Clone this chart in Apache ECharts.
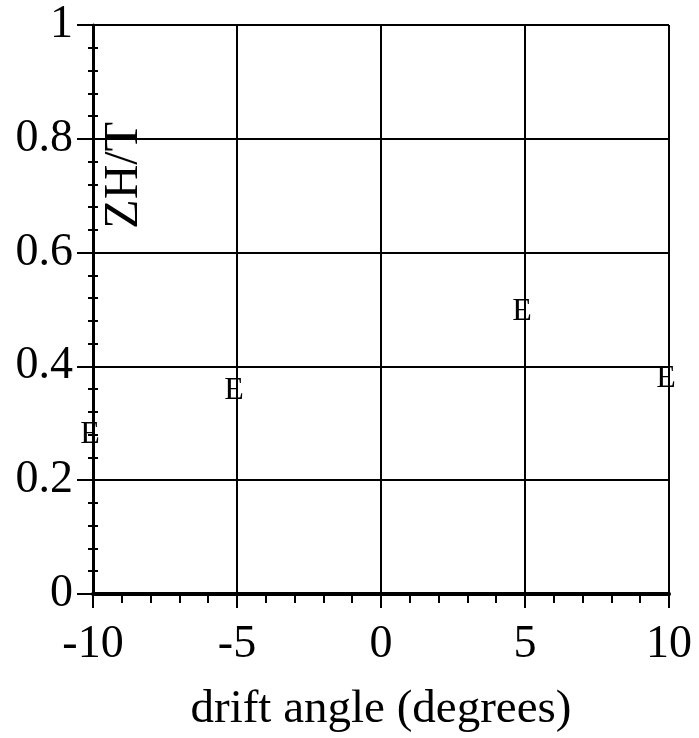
<!DOCTYPE html>
<html>
<head>
<meta charset="utf-8">
<script src="https://cdn.jsdelivr.net/npm/echarts@6/dist/echarts.min.js"></script>
<style>
html,body{margin:0;padding:0;background:#fff;}
#chart{width:699px;height:738px;}
</style>
</head>
<body>
<div id="chart"></div>
<script>
// Data
const driftAngle = [-10, -5, 5, 10];
const ratioZHT = [0.28, 0.357, 0.496, 0.379];
const pointLabels = ['E', 'E', 'E', 'E'];
const xTitle = 'drift angle (degrees)';
const yTitle = 'ZH/T';

const FONT = '"Liberation Serif", "DejaVu Serif", serif';
const chart = echarts.init(document.getElementById('chart'), null, {renderer: 'canvas'});

const pts = driftAngle.map((x, i) => [x, ratioZHT[i], pointLabels[i]]);

chart.setOption({
  animation: false,
  backgroundColor: '#ffffff',
  grid: {left: 93, right: 30, top: 25, bottom: 138, containLabel: false},
  xAxis: {
    type: 'value', min: -10, max: 10, interval: 5,
    name: xTitle, nameLocation: 'middle', nameGap: 92,
    nameTextStyle: {fontFamily: FONT, fontSize: 47, color: '#000'},
    axisLine: {show: true, onZero: false, lineStyle: {color: '#000', width: 4}},
    axisTick: {show: true, length: 14, lineStyle: {color: '#000', width: 2}},
    minorTick: {show: true, splitNumber: 5, length: 9, lineStyle: {color: '#000', width: 2}},
    splitLine: {show: true, lineStyle: {color: '#000', width: 2}},
    axisLabel: {fontFamily: FONT, fontSize: 46, color: '#000', margin: 28}
  },
  yAxis: [{
    type: 'value', min: 0, max: 1, interval: 0.2,
    axisLine: {show: true, onZero: false, lineStyle: {color: '#000', width: 3}},
    axisTick: {show: true, length: 16, lineStyle: {color: '#000', width: 2}},
    minorTick: {show: true, splitNumber: 5, length: 5, lineStyle: {color: '#000', width: 2}},
    splitLine: {show: true, lineStyle: {color: '#000', width: 2}},
    axisLabel: {fontFamily: FONT, fontSize: 46, color: '#000', margin: 20}
  }, {
    type: 'value', min: 0, max: 1, interval: 0.2, position: 'left',
    axisLine: {show: false, onZero: false},
    axisTick: {show: false, inside: true},
    minorTick: {show: true, splitNumber: 5, length: 5, lineStyle: {color: '#000', width: 2}},
    splitLine: {show: false},
    axisLabel: {show: false}
  }],
  graphic: [{
    type: 'text',
    left: 100, top: 122,
    rotation: Math.PI / 2,
    style: {text: yTitle, font: '48px ' + FONT, fill: '#000'}
  }],
  series: [{
    type: 'scatter',
    data: pts,
    symbol: 'circle',
    symbolSize: 0,
    itemStyle: {color: '#000', opacity: 1},
    label: {
      show: true, position: 'top', distance: 0, offset: [-3, 16],
      formatter: p => p.data[2],
      fontFamily: FONT, fontSize: 32, lineHeight: 32, color: '#000',
      fontWeight: 'normal', textBorderWidth: 0, opacity: 1
    },
    emphasis: {disabled: true}
  }]
});
</script>
</body>
</html>
